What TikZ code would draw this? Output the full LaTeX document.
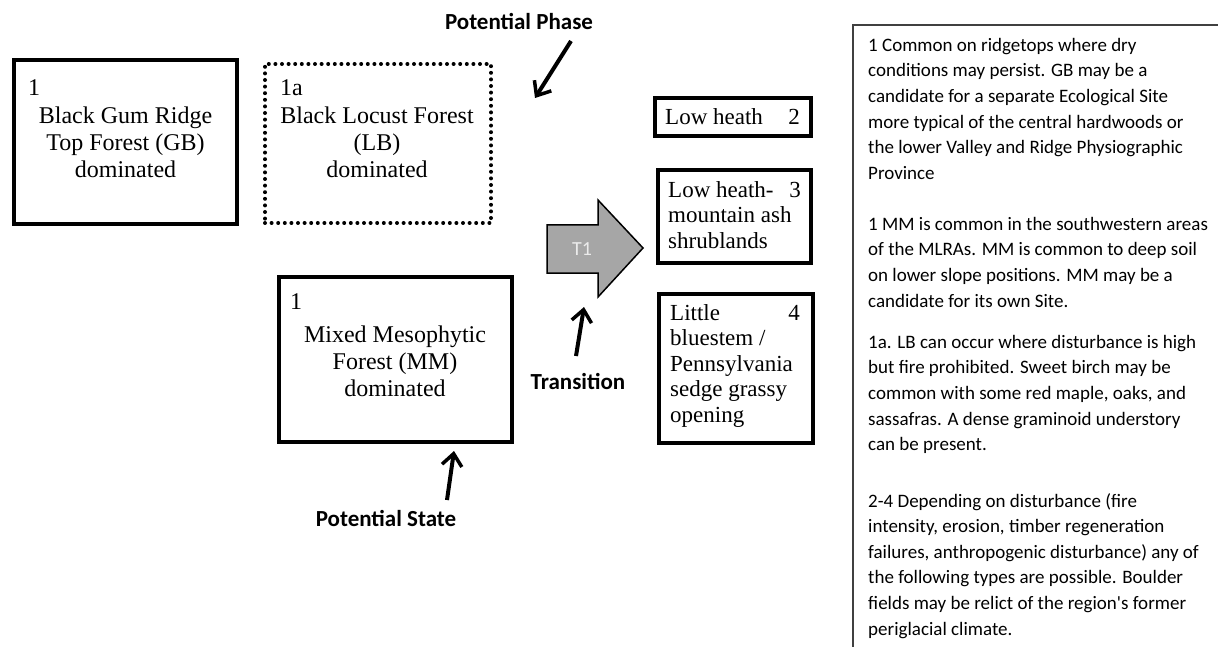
\documentclass[tikz,border=0pt]{standalone}
\usepackage{fontspec}
\setmainfont{Liberation Serif}
\newfontfamily\calfont{Carlito}
\usetikzlibrary{arrows.meta}
\begin{document}
\begin{tikzpicture}[x=1pt,y=-1pt,
  statebox/.style={draw=black,line width=4pt,rectangle,inner sep=0pt,outer sep=0pt},
  phasebox/.style={draw=black,line width=4pt,rectangle,inner sep=0pt,outer sep=0pt,
     dash pattern=on 0pt off 6.6pt,line cap=round},
  boxtext/.style={font=\fontsize{24}{27}\selectfont,align=center,inner sep=0pt},
  smalltext/.style={font=\fontsize{23}{25.5}\selectfont,align=left,inner sep=0pt},
  labeltext/.style={font=\calfont\bfseries\fontsize{23}{26}\selectfont,inner sep=0pt},
  notetext/.style={font=\calfont\fontsize{19}{25.6}\selectfont,align=left,inner sep=0pt,anchor=north west},
  pointer/.style={line width=4pt,-{Straight Barb[length=12pt,width=20pt,line width=3.5pt]}}
]
\useasboundingbox (0,0) rectangle (1218,647);
\fill[white] (0,0) rectangle (1218,647);

% state boxes
\node[statebox,minimum width=223pt,minimum height=164pt] (gb) at (125.5,142) {};
\node[phasebox,minimum width=226pt,minimum height=159pt] (lb) at (378,143.5) {};
\node[statebox,minimum width=233pt,minimum height=165pt] (mm) at (395.5,359.5) {};
\node[statebox,minimum width=156pt,minimum height=38pt] (b2) at (733,117) {};
\node[statebox,minimum width=153pt,minimum height=93pt] (b3) at (734.5,216.5) {};
\node[statebox,minimum width=154pt,minimum height=149pt] (b4) at (736,368.5) {};

% texts in boxes
\node[boxtext,anchor=west] (gbn) at (28,88) {1};
\node[boxtext] (gbt) at (125.5,142) {Black Gum Ridge\\Top Forest (GB)\\dominated};
\node[boxtext,anchor=west] (lbn) at (280,88) {1a};
\node[boxtext] (lbt) at (377,142) {Black Locust Forest\\(LB)\\dominated};
\node[boxtext,anchor=west] (mmn) at (290,302) {1};
\node[boxtext] (mmt) at (395,361) {Mixed Mesophytic\\Forest (MM)\\dominated};

\node[smalltext,anchor=west] (b2t) at (665,117) {Low heath};
\node[smalltext,anchor=east] (b2n) at (800,117) {2};
\node[smalltext,anchor=west] (b3t) at (668,215) {Low heath-\\mountain ash\\shrublands};
\node[smalltext,anchor=east] (b3n) at (801,190) {3};
\node[smalltext,anchor=west] (b4t) at (670,366) {Little\\bluestem /\\Pennsylvania\\sedge grassy\\opening};
\node[smalltext,anchor=east] (b4n) at (800,313) {4};

% transition arrow T1
\draw[fill=black!35,line width=1.5pt,line join=miter]
  (547,225) -- (598,225) -- (598,200) -- (643,248) -- (598,297) -- (598,273) -- (547,273) -- cycle;
\node[font=\calfont\fontsize{20}{24}\selectfont,text=black!8,inner sep=0pt] (t1) at (582,249) {T1};

% labels and pointers
\node[labeltext] (pphase) at (519,22) {Potential Phase};
\coordinate (pphaseTail) at (571,41);
\coordinate (pphaseTip) at (535,98);
\draw[pointer] (pphaseTail) -- (pphaseTip);

\node[labeltext] (trans) at (578,381) {Transition};
\coordinate (transTail) at (576,356);
\coordinate (transTip) at (584,307);
\draw[pointer] (transTail) -- (transTip);

\node[labeltext] (pstate) at (386,518) {Potential State};
\coordinate (pstateTail) at (447,500);
\coordinate (pstateTip) at (454,451);
\draw[pointer] (pstateTail) -- (pstateTip);

% notes panel
\coordinate (panelBL) at (853,647);
\coordinate (panelTL) at (853,25);
\coordinate (panelTR) at (1218,25);
\draw[black!75,line width=1.6pt] (panelBL) -- (panelTL) -- (panelTR);

\node[notetext] (n1) at (868,38) {1 Common on ridgetops where dry\\conditions may persist.  GB may be a\\candidate for a separate Ecological Site\\more typical of the central hardwoods or\\the lower Valley and Ridge Physiographic\\Province};
\node[notetext] (n2) at (868,217) {1 MM is common in the southwestern areas\\of the MLRAs. MM is common to deep soil\\on lower slope positions.  MM may be a\\candidate for its own Site.};
\node[notetext] (n3) at (868,335) {1a. LB can occur where disturbance is high\\but fire prohibited. Sweet birch may be\\common with some red maple, oaks, and\\sassafras. A dense graminoid understory\\can be present.};
\node[notetext] (n4) at (868,493) {2-4 Depending on disturbance (fire\\intensity, erosion, timber regeneration\\failures, anthropogenic disturbance) any of\\the following types are possible.  Boulder\\fields may be relict of the region's former\\periglacial climate.};
\end{tikzpicture}
\end{document}
